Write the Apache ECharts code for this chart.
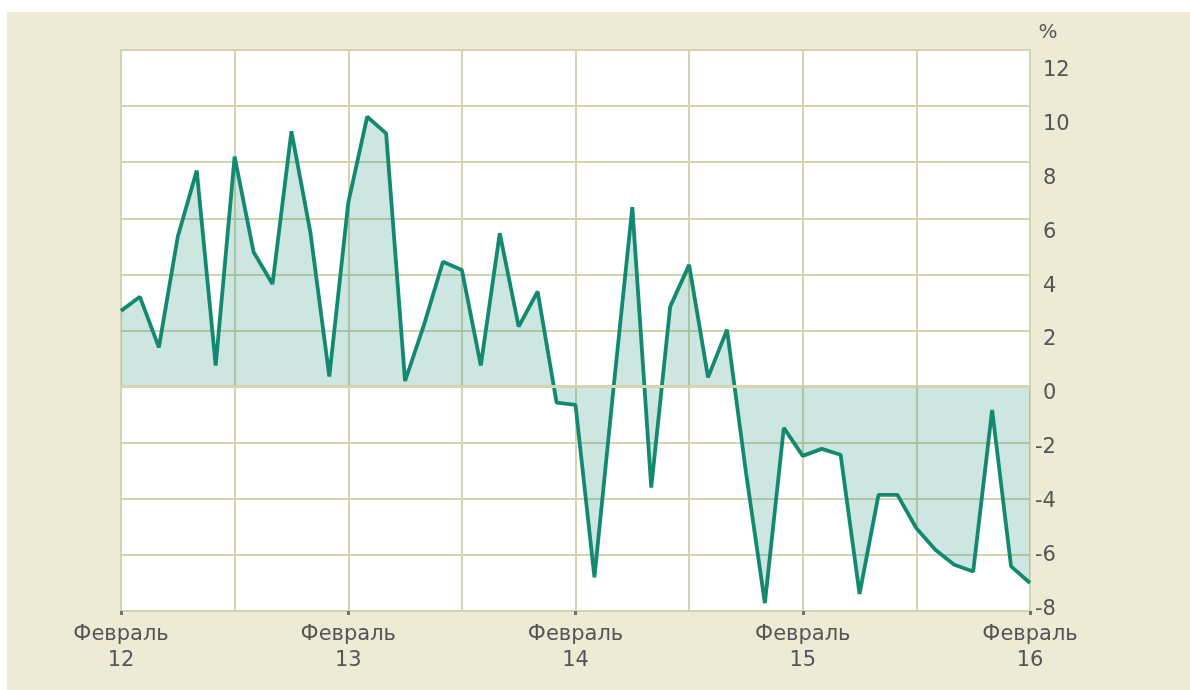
<!DOCTYPE html>
<html>
<head>
<meta charset="utf-8">
<script src="https://cdn.jsdelivr.net/npm/echarts@6/dist/echarts.min.js"></script>
<style>
html,body{margin:0;padding:0;background:#ffffff;}
#chart{width:1190px;height:690px;}
</style>
</head>
<body>
<div id="chart"></div>
<script>
// ---- data ----
const monthNames = ["Январь","Февраль","Март","Апрель","Май","Июнь","Июль","Август","Сентябрь","Октябрь","Ноябрь","Декабрь"];
const startYear = 12, startMonth = 1, monthCount = 49; // Feb 2012 .. Feb 2016
const categories = [];
for (let i = 0; i < monthCount; i++) {
  const m = (startMonth + i) % 12;
  const y = startYear + Math.floor((startMonth + i) / 12);
  categories.push(monthNames[m] + " " + y);
}
const values = [
  2.7, 3.2, 1.4, 5.35, 7.7, 0.75, 8.2, 4.8, 3.66, 9.1, 5.5, 0.36,
  6.55, 9.62, 9.03, 0.2, 2.2, 4.45, 4.16, 0.75, 5.47, 2.14, 3.39, -0.57,
  -0.65, -6.8, -0.1, 6.4, -3.6, 2.85, 4.34, 0.33, 2.03, -3.05, -7.72, -1.47,
  -2.47, -2.22, -2.43, -7.39, -3.86, -3.86, -5.05, -5.82, -6.35, -6.59, -0.83, -6.41,
  -7.0
];
const posTickLabels = [0, 2, 4, 6, 8, 10, 12];
const negTickLabels = [-8, -6, -4, -2];
const unitLabel = "%";

// ---- styles ----
const gridColor = "#d4d4b0";
const textColor = "#555555";
const lineColor = "#138a6f";
const font = "DejaVu Sans";

const chart = echarts.init(document.getElementById("chart"), null, {renderer: "canvas"});
const labelAxisMin = -8.055, labelAxisMax = 12.761;

chart.setOption({
  backgroundColor: "#ffffff",
  animation: false,
  graphic: [
    {type: "rect", z: -10, shape: {x: 7, y: 12, width: 1183, height: 678}, style: {fill: "#edebd6"}, silent: true},
    {type: "text", z: 10, x: 1048, y: 33, style: {text: unitLabel, fill: textColor, font: "20px '" + font + "'", align: "center", verticalAlign: "middle"}}
  ],
  grid: {
    left: 121, top: 50, right: 160, bottom: 79,
    show: true, backgroundColor: "#ffffff", borderColor: gridColor, borderWidth: 2,
    containLabel: false
  },
  xAxis: {
    type: "category",
    data: categories,
    boundaryGap: false,
    axisLine: {show: true, onZero: false, lineStyle: {color: gridColor, width: 2}},
    axisTick: {
      show: true, length: 4, inside: false,
      interval: function (idx) { return idx % 12 === 0; },
      lineStyle: {color: "#707070", width: 3}
    },
    axisLabel: {
      interval: function (idx) { return idx % 12 === 0; },
      formatter: function (v) { return v.replace(" ", "\n"); },
      color: textColor, fontFamily: font, fontSize: 21, lineHeight: 26, margin: 11
    },
    splitLine: {
      show: true,
      interval: function (idx) { return idx % 6 === 0; },
      lineStyle: {color: gridColor, width: 2}
    }
  },
  yAxis: [
    {
      type: "value", position: "right", min: -8, max: 12, interval: 2,
      axisLine: {show: false}, axisTick: {show: false}, axisLabel: {show: false},
      splitLine: {show: true, lineStyle: {color: gridColor, width: 2}}
    },
    {
      type: "value", position: "right", min: labelAxisMin, max: labelAxisMax,
      axisLine: {show: false}, axisTick: {show: false}, splitLine: {show: false},
      axisLabel: {customValues: posTickLabels, color: textColor, fontFamily: font, fontSize: 21, margin: 13}
    },
    {
      type: "value", position: "right", min: labelAxisMin, max: labelAxisMax,
      axisLine: {show: false}, axisTick: {show: false}, splitLine: {show: false},
      axisLabel: {customValues: negTickLabels, color: textColor, fontFamily: font, fontSize: 21, margin: 5}
    }
  ],
  series: [
    {
      type: "line", yAxisIndex: 0, data: [], z: 1, silent: true,
      markLine: {
        silent: true, symbol: ["none", "none"], label: {show: false},
        lineStyle: {color: gridColor, width: 3, type: "solid"},
        data: [{yAxis: 0}]
      }
    },
    {
      type: "line", yAxisIndex: 0, data: values, z: 3,
      showSymbol: false, symbol: "none",
      lineStyle: {color: lineColor, width: 3.8, join: "bevel"},
      areaStyle: {color: "rgba(19,138,111,0.21)", opacity: 1, origin: 0}
    }
  ]
});
</script>
</body>
</html>
